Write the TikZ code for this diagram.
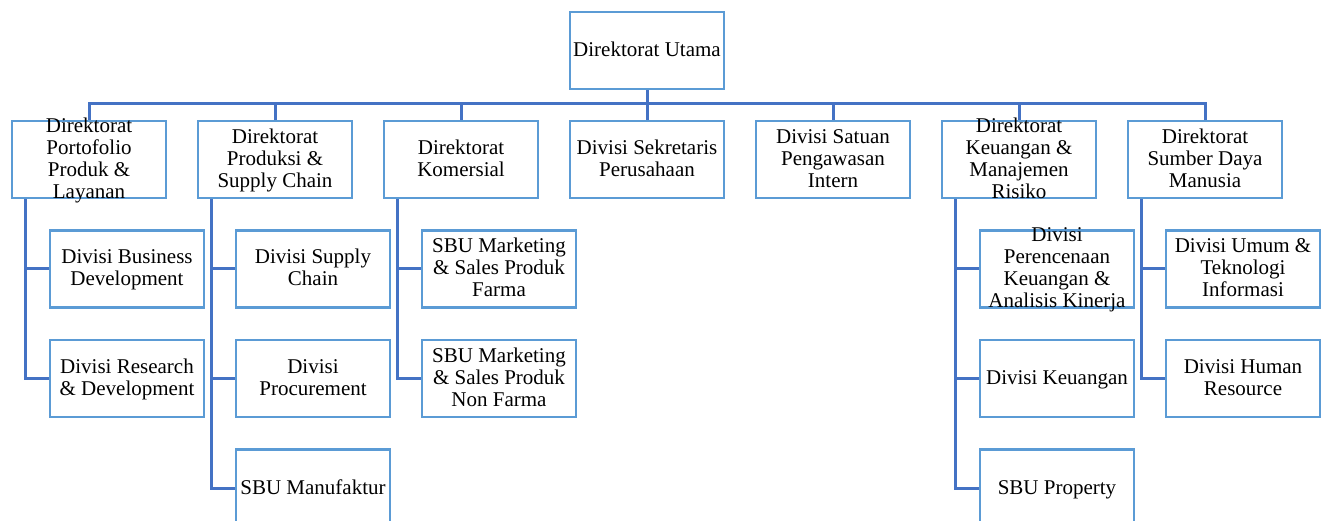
\documentclass[tikz,border=0pt]{standalone}
\usepackage{fontspec}
\setmainfont{Liberation Serif}
\definecolor{boxblue}{RGB}{91,155,213}
\definecolor{linkblue}{RGB}{68,114,196}
\begin{document}
\begin{tikzpicture}[x=1pt,y=-1pt]
		\tikzstyle{unit} = [draw=boxblue, line width=2.8pt, fill=white, minimum width=154pt, minimum height=77pt, inner sep=0pt]
		\tikzstyle{txt} = [align=center, inner sep=0pt, yshift=-2pt, font=\fontsize{21}{22}\selectfont, execute at begin node=\strut, execute at end node=\strut]
		\tikzstyle{link} = [draw=linkblue, line width=3pt]
		\useasboundingbox (0,0) rectangle (1330,521);
		\clip (0,0) rectangle (1330,521);
		% top
		\node[unit, label={[txt]center:Direktorat Utama}] (du) at (647,50.5) {};
		% directorates
		\node[unit, label={[txt]center:Direktorat\\Portofolio\\Produk \&\\Layanan}] (dpp) at (89,159.5) {};
		\node[unit, label={[txt]center:Direktorat\\Produksi \&\\Supply Chain}] (dps) at (275,159.5) {};
		\node[unit, label={[txt]center:Direktorat\\Komersial}] (dk) at (461,159.5) {};
		\node[unit, label={[txt]center:Divisi Sekretaris\\Perusahaan}] (dsp) at (647,159.5) {};
		\node[unit, label={[txt]center:Divisi Satuan\\Pengawasan\\Intern}] (dspi) at (833,159.5) {};
		\node[unit, label={[txt]center:Direktorat\\Keuangan \&\\Manajemen\\Risiko}] (dkmr) at (1019,159.5) {};
		\node[unit, label={[txt]center:Direktorat\\Sumber Daya\\Manusia}] (dsdm) at (1205,159.5) {};
		% divisions
		\node[unit, label={[txt]center:Divisi Business\\Development}] (bd) at (127,269) {};
		\node[unit, label={[txt]center:Divisi Research\\\& Development}] (rd) at (127,378.5) {};
		\node[unit, label={[txt]center:Divisi Supply\\Chain}] (sc) at (313,269) {};
		\node[unit, label={[txt]center:Divisi\\Procurement}] (pr) at (313,378.5) {};
		\node[unit, label={[txt]center:SBU Manufaktur}] (mf) at (313,488) {};
		\node[unit, label={[txt]center:SBU Marketing\\\& Sales Produk\\Farma}] (mf1) at (499,269) {};
		\node[unit, label={[txt]center:SBU Marketing\\\& Sales Produk\\Non Farma}] (mf2) at (499,378.5) {};
		\node[unit, label={[txt]center:Divisi\\Perencenaan\\Keuangan \&\\Analisis Kinerja}] (pk) at (1057,269) {};
		\node[unit, label={[txt]center:Divisi Keuangan}] (ku) at (1057,378.5) {};
		\node[unit, label={[txt]center:SBU Property}] (pp) at (1057,488) {};
		\node[unit, label={[txt]center:Divisi Umum \&\\Teknologi\\Informasi}] (uti) at (1243,269) {};
		\node[unit, label={[txt]center:Divisi Human\\Resource}] (hr) at (1243,378.5) {};
		% connectors
		\coordinate (bus) at (647,104);
		\path[link] (du.south) -- (bus);
		\foreach \n in {dpp,dps,dk,dsp,dspi,dkmr,dsdm}
			\path[link] (bus) -| (\n.north);
		\foreach \n in {dpp,dps,dk,dkmr,dsdm}
			\coordinate (\n-s) at ([xshift=15pt]\n.south west);
		\path[link] (dpp-s) |- (bd.west);
		\path[link] (dpp-s) |- (rd.west);
		\path[link] (dps-s) |- (sc.west);
		\path[link] (dps-s) |- (pr.west);
		\path[link] (dps-s) |- (mf.west);
		\path[link] (dk-s) |- (mf1.west);
		\path[link] (dk-s) |- (mf2.west);
		\path[link] (dkmr-s) |- (pk.west);
		\path[link] (dkmr-s) |- (ku.west);
		\path[link] (dkmr-s) |- (pp.west);
		\path[link] (dsdm-s) |- (uti.west);
		\path[link] (dsdm-s) |- (hr.west);
	\end{tikzpicture}
\end{document}
